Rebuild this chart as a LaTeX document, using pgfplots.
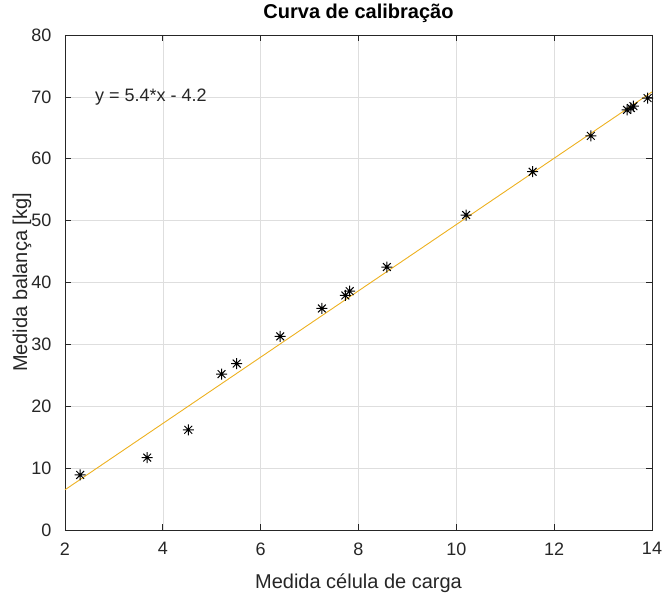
\documentclass[border=0pt]{standalone}
\usepackage{fontspec}
\setmainfont{Liberation Sans}
\usepackage{pgfplots}
\pgfplotsset{compat=1.18}
\definecolor{axgray}{RGB}{38,38,38}
\definecolor{fitcol}{RGB}{237,177,32}
\pgfdeclareplotmark{star8}{%
  \pgfpathmoveto{\pgfqpoint{0pt}{\pgfplotmarksize}}\pgfpathlineto{\pgfqpoint{0pt}{-\pgfplotmarksize}}%
  \pgfpathmoveto{\pgfqpoint{\pgfplotmarksize}{0pt}}\pgfpathlineto{\pgfqpoint{-\pgfplotmarksize}{0pt}}%
  \pgfpathmoveto{\pgfqpoint{0.707\pgfplotmarksize}{0.707\pgfplotmarksize}}\pgfpathlineto{\pgfqpoint{-0.707\pgfplotmarksize}{-0.707\pgfplotmarksize}}%
  \pgfpathmoveto{\pgfqpoint{-0.707\pgfplotmarksize}{0.707\pgfplotmarksize}}\pgfpathlineto{\pgfqpoint{0.707\pgfplotmarksize}{-0.707\pgfplotmarksize}}%
  \pgfusepathqstroke}
\begin{document}
\begin{tikzpicture}
\begin{axis}[
  scale only axis,
  width=587pt, height=495pt,
  xmin=2, xmax=14, ymin=0, ymax=80,
  xtick={2,4,...,14}, ytick={0,10,...,80},
  tick align=inside,
  major tick length=6pt,
  axis line style={axgray, line width=0.7pt},
  every tick/.style={axgray, line width=0.7pt},
  grid=major,
  major grid style={line width=0.5pt, color=black!13},
  /pgf/number format/assume math mode=true,
  tick label style={font=\fontsize{18}{20}\selectfont, text=axgray},
  yticklabel style={xshift=-10pt},
  xticklabel style={yshift=-9pt},
  xlabel={Medida célula de carga},
  ylabel={Medida balança [kg]},
  title={Curva de calibração},
  label style={font=\fontsize{20}{22}\selectfont, text=axgray},
  xlabel style={at={(axis description cs:0.5,-0.1172)}, anchor=base},
  ylabel style={at={(axis description cs:-0.0647,0.5)}, anchor=base},
  title style={at={(axis description cs:0.5,1.0202)}, anchor=base, font=\fontsize{20}{22}\selectfont\bfseries, text=black},
]
\addplot[only marks, mark=star8, mark size=5.5pt, mark options={line width=1pt, black}] coordinates {
(2.31,8.9) (3.68,11.7) (4.52,16.2) (5.20,25.2) (5.51,26.9) (6.40,31.3)
(7.25,35.8) (7.73,37.9) (7.82,38.6) (8.58,42.5) (10.20,50.9) (11.56,57.9)
(12.75,63.7) (13.49,67.9) (13.57,68.2) (13.62,68.5) (13.91,69.8)
};
\addplot[fitcol, line width=0.9pt] coordinates {(2,6.5) (14,70.8)};
\node[anchor=west, font=\fontsize{18}{20}\selectfont, text=axgray, inner sep=0pt] at (axis cs:2.61,70) {y = 5.4*x - 4.2};
\end{axis}
\path (current axis.south west) ++(-65pt,-64pt) coordinate (bl);
\path (current axis.north east) ++(10pt,35pt) coordinate (tr);
\pgfresetboundingbox
\path[use as bounding box] (bl) rectangle (tr);
\end{tikzpicture}
\end{document}
